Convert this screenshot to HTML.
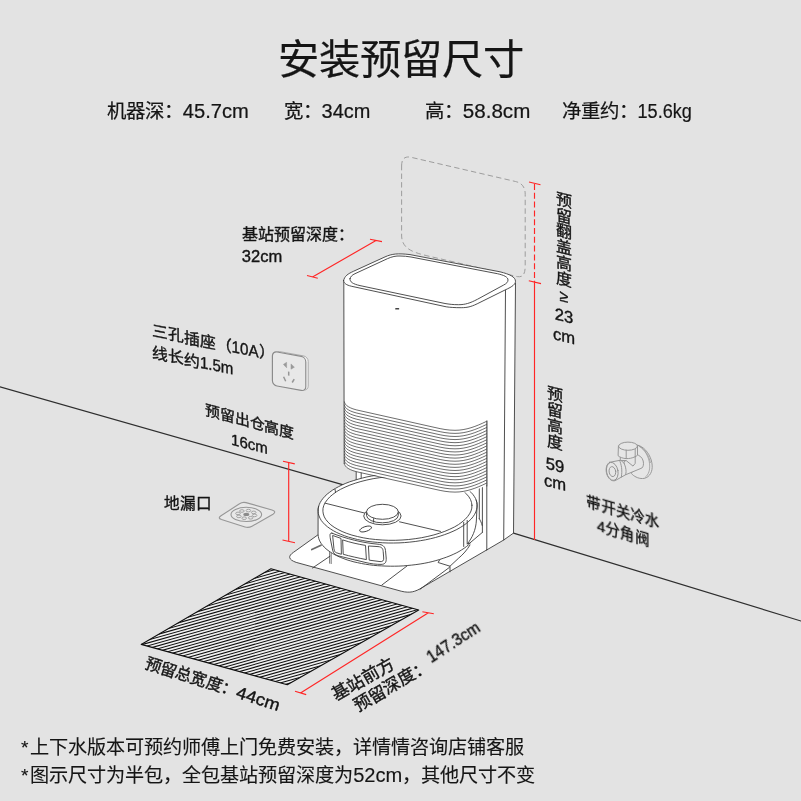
<!DOCTYPE html>
<html lang="zh-CN">
<head>
<meta charset="utf-8">
<title>安装预留尺寸</title>
<style>
html,body{margin:0;padding:0;background:#e3e3e3;}
body{width:801px;height:801px;overflow:hidden;font-family:"Liberation Sans",sans-serif;}
svg{display:block}
</style>
</head>
<body>
<svg width="801" height="801" viewBox="0 0 801 801">
<rect width="801" height="801" fill="#e3e3e3"/>
<path d="M0,386.9 L346,485.6 M513.5,533.1 L801,621" fill="none" stroke="#2e2e2e" stroke-width="1.1" stroke-linejoin="round" stroke-linecap="round"/>
<path d="M401.6,166 C401.6,159.5 404,156 410.6,157.2 L515.5,181.5 C522,183 525.2,187 525.2,194.5 L525.2,266 C525.2,274 523,277.6 517.3,276.6 L428,256 C412,252.2 401.6,248.5 401.6,235 Z" fill="none" stroke="#909090" stroke-width="0.85" stroke-linejoin="round" stroke-linecap="round" stroke-dasharray="4.6 4"/>
<path d="M343.8,281 C344.5,276 348,273.8 353.7,271.2 L385,256.9 C392,253.7 398,253.2 410,254.6 L500,271.8 C510,274.3 515.3,277 515.5,281.2 L513.5,533.1 L503.7,540 L486.8,549.9 L422.4,587.4 C415,592 410,593.3 401.2,591.2 L296.2,562.4 C288,559.5 288,556 293.5,552.3 L318.7,534.3 L330,520 L345,497 L356.2,483 L356.2,470.5 L351.2,469.3 C347,468 344.5,466 344.2,463.7 Z" fill="#fff" stroke="none" stroke-width="0.9" stroke-linejoin="round" stroke-linecap="round"/>
<path d="M318.7,534.3 L293.5,552.3 C288,556 288,559.5 296.2,562.4 L401.2,591.2 C410,593.3 415,592 422.4,587.4 L486.8,549.9" fill="none" stroke="#3c3c3c" stroke-width="0.9" stroke-linejoin="round" stroke-linecap="round"/>
<path d="M420,589.3 L449.3,567.5" fill="none" stroke="#3c3c3c" stroke-width="0.9" stroke-linejoin="round" stroke-linecap="round"/>
<path d="M312.5,568 L330,556.2 M381.9,585 L407.5,565.6" fill="none" stroke="#3c3c3c" stroke-width="0.9" stroke-linejoin="round" stroke-linecap="round"/>
<path d="M440,559.3 L438.1,562.5 L450,566.2 L450,571.8 M450,566.2 L458.7,558.1 C463,554.5 467,550 470,545" fill="none" stroke="#3c3c3c" stroke-width="0.9" stroke-linejoin="round" stroke-linecap="round"/>
<path d="M515.5,283 L513.5,533.1 L503.7,540 L486.8,549.9" fill="none" stroke="#3c3c3c" stroke-width="0.9" stroke-linejoin="round" stroke-linecap="round"/>
<path d="M505.5,290 L503.7,540" fill="none" stroke="#3c3c3c" stroke-width="0.9" stroke-linejoin="round" stroke-linecap="round"/>
<path d="M356.2,471.8 L356.2,481 M361.2,472.8 L361.2,479.5" fill="none" stroke="#3c3c3c" stroke-width="0.9" stroke-linejoin="round" stroke-linecap="round"/>
<path d="M486.8,421 L486.8,549.9 M482.4,486 L482.4,532.4 M479.3,487.5 L479.3,518.7" fill="none" stroke="#3c3c3c" stroke-width="0.9" stroke-linejoin="round" stroke-linecap="round"/>
<path d="M482.4,532.4 L467.5,545 M479.3,518.7 C480.5,521 481.5,522.5 482.2,525.5" fill="none" stroke="#3c3c3c" stroke-width="0.9" stroke-linejoin="round" stroke-linecap="round"/>
<path d="M318.1,511.3 L318.1,509.1 L318.5,506.9 L319.2,504.7 L320.2,502.5 L321.5,500.4 L323.1,498.3 L325.0,496.2 L327.2,494.1 L329.7,492.2 L332.4,490.2 L335.4,488.4 L338.7,486.6 L342.1,484.9 L345.8,483.3 L349.7,481.8 L353.8,480.5 L358.1,479.2 L362.5,478.0 L367.0,476.9 L371.7,476.0 L376.5,475.2 L381.3,474.5 L386.2,474.0 L391.2,473.6 L396.2,473.3 L401.2,473.2 L406.2,473.2 L411.1,473.3 L416.0,473.6 L420.8,474.0 L425.6,474.6 L430.2,475.3 L434.7,476.1 L439.0,477.0 L443.2,478.1 L447.2,479.3 L451.0,480.6 L454.6,482.0 L458.0,483.5 L461.1,485.1 L464.0,486.8 L466.6,488.5 L469.0,490.4 L471.0,492.3 L472.8,494.3 L474.3,496.4 L475.5,498.4 L476.3,500.6 L476.9,502.7 L477.1,504.9 L476.4,520 C476,530 472,538 467.5,543.7 L470.3,543.1 L468.4,544.9 L466.4,546.6 L464.1,548.3 L461.6,549.9 L459.0,551.5 L456.2,553.0 L453.2,554.4 L450.0,555.8 L446.7,557.1 L443.2,558.3 L439.6,559.5 L435.9,560.6 L432.1,561.6 L428.2,562.5 L424.2,563.3 L420.1,564.0 L415.9,564.6 L411.7,565.1 L407.4,565.5 L403.2,565.9 L398.9,566.1 L394.6,566.2 L390.3,566.2 L386.0,566.1 L381.7,565.9 L377.6,565.7 L373.4,565.3 L369.4,564.8 L365.4,564.2 L361.5,563.5 L357.7,562.7 L354.0,561.9 L350.5,560.9 L347.1,559.9 L343.9,558.7 L340.8,557.5 L337.8,556.2 L335.1,554.9 L332.5,553.4 L330.1,551.9 L328.0,550.4 L326.0,548.8 L324.2,547.1 L322.7,545.4 L321.3,543.7 L320.2,541.9 L319.3,540.1 L318.7,538.2 L318.3,536.4 L318.1,534.5 Z" fill="#fff" stroke="#3c3c3c" stroke-width="0.9" stroke-linejoin="round" stroke-linecap="round"/>
<path d="M476.2,500.1 L476.8,502.4 L477.1,504.8 L477.1,507.2 L476.6,509.6 L475.8,512.0 L474.6,514.3 L473.1,516.7 L471.2,519.0 L468.9,521.2 L466.4,523.4 L463.5,525.5 L460.3,527.5 L456.8,529.5 L453.0,531.3 L449.0,533.0 L444.7,534.6 L440.2,536.1 L435.5,537.5 L430.6,538.7 L425.6,539.8 L420.4,540.7 L415.2,541.5 L409.8,542.1 L404.4,542.6 L399.0,542.9 L393.6,543.0 L388.1,543.0 L382.8,542.8 L377.4,542.4 L372.2,541.9 L367.1,541.3 L362.2,540.4 L357.4,539.5 L352.8,538.3 L348.4,537.1 L344.3,535.7 L340.3,534.1 L336.7,532.5 L333.3,530.7 L330.3,528.8 L327.6,526.9 L325.1,524.8 L323.1,522.7 L321.3,520.5 L320.0,518.2 L319.0,515.9 L318.3,513.6 L318.1,511.2 L318.2,508.8 L318.6,506.4" fill="none" stroke="#3c3c3c" stroke-width="0.9" stroke-linejoin="round" stroke-linecap="round"/>
<path d="M471.9,505.2 L471.8,508.1 L471.0,511.0 L469.6,513.8 L467.6,516.6 L465.1,519.4 L462.0,522.0 L458.5,524.6 L454.4,527.0 L449.8,529.2 L444.9,531.3 L439.5,533.2 L433.9,534.9 L427.9,536.4 L421.7,537.7 L415.2,538.7 L408.7,539.5 L402.0,540.0 L395.3,540.3 L388.7,540.3 L382.1,540.0 L375.6,539.5 L369.3,538.8 L363.2,537.8 L357.4,536.5 L351.9,535.1 L346.8,533.4 L342.1,531.5 L337.9,529.4 L334.1,527.2 L330.8,524.8 L328.1,522.2 L325.9,519.6 L324.3,516.9 L323.3,514.0 L322.9,511.2 L323.0,508.3 L323.8,505.4 L325.2,502.6 L327.2,499.8 L329.7,497.0 L332.8,494.4 L336.3,491.8 L340.4,489.4 L345.0,487.2 L349.9,485.1 L355.3,483.2 L360.9,481.5 L366.9,480.0 L373.1,478.7 L379.6,477.7 L386.1,476.9 L392.8,476.4 L399.5,476.1 L406.1,476.1 L412.7,476.4 L419.2,476.9 L425.5,477.6 L431.6,478.6 L437.4,479.9 L442.9,481.3 L448.0,483.0 L452.7,484.9 L456.9,487.0 L460.7,489.2 L464.0,491.6 L466.7,494.2 L468.9,496.8 L470.5,499.5 L471.5,502.4 L471.9,505.2 Z" fill="#fff" stroke="#3c3c3c" stroke-width="0.9" stroke-linejoin="round" stroke-linecap="round"/>
<path d="M335,489.3 L335.6,492.6" fill="none" stroke="#3c3c3c" stroke-width="0.9" stroke-linejoin="round" stroke-linecap="round"/>
<path d="M325.2,503.2 L366,513.4 M399.5,521.8 L440.5,531.4" fill="none" stroke="#3c3c3c" stroke-width="0.9" stroke-linejoin="round" stroke-linecap="round"/>
<ellipse cx="382.4" cy="516" rx="18.7" ry="8.8" fill="#fff" stroke="#3c3c3c" stroke-width="0.9"/>
<path d="M366.5,511.8 L366.5,515.3 A15.9,7.5 0 0 0 398.3,515.3 L398.3,511.8" fill="#fff" stroke="#3c3c3c" stroke-width="0.9" stroke-linejoin="round" stroke-linecap="round"/>
<ellipse cx="382.4" cy="511.8" rx="15.9" ry="7.5" fill="#fff" stroke="#3c3c3c" stroke-width="0.9"/>
<path d="M373.6,518.6 L373.6,522.2" fill="none" stroke="#3c3c3c" stroke-width="0.9" stroke-linejoin="round" stroke-linecap="round"/>
<ellipse cx="365.6" cy="529" rx="6.2" ry="2.4" transform="rotate(-18 365.6 529)" fill="#fff" stroke="#3c3c3c" stroke-width="0.9"/>
<path d="M332,533.2 C329.5,532.6 329.8,535 330.4,539 L332.6,550 C333.5,553.5 335,554.8 338,555.8 L366,562.6 C371,563.8 376,564.4 381,564.4 C385.5,564.4 386.4,562 386.2,558 L385.5,550.5 C385,546.2 382.5,544.6 378,544.2 C362,542.8 346,538.6 332,533.2 Z" fill="#fff" stroke="#3c3c3c" stroke-width="0.9" stroke-linejoin="round" stroke-linecap="round"/>
<path d="M333,535.6 L341,538.4 L341.4,554.3 L336.5,552.8 C334.8,552.2 334.3,551 334,549 Z" fill="none" stroke="#3c3c3c" stroke-width="0.9" stroke-linejoin="round" stroke-linecap="round"/>
<path d="M343,540 C350,542.4 358,544.2 365.5,545.4 L366.4,559.6 C358,558 350,556.2 343.6,554.4 Z" fill="none" stroke="#3c3c3c" stroke-width="0.9" stroke-linejoin="round" stroke-linecap="round"/>
<path d="M368.8,546 L378,546.6 C381.8,546.8 383,548.6 383.2,551.6 L383.7,558 C383.9,560.8 382.6,561.8 380,561.6 L369.6,560.2 Z" fill="none" stroke="#3c3c3c" stroke-width="0.9" stroke-linejoin="round" stroke-linecap="round"/>
<path d="M311.8,549.6 L321,545.2" fill="none" stroke="#6a6a6a" stroke-width="1.7" stroke-linejoin="round" stroke-linecap="round"/>
<path d="M329.6,552.4 L329.6,563.2 M331.2,553.4 L331.2,563.6" fill="none" stroke="#3c3c3c" stroke-width="0.7" stroke-linejoin="round" stroke-linecap="round"/>
<path d="M463.7,522.4 L463.7,546.5 M467.2,520.4 L467.2,544" fill="none" stroke="#3c3c3c" stroke-width="0.9" stroke-linejoin="round" stroke-linecap="round"/>
<path d="M343.8,281 L515.5,281.2 L505.5,290 L486.8,300 L486.8,484.9 C481,488 475,490.5 470,491.5 C463,493 458,493 450,492 L360,472 C350,470 345.5,468 344.2,463.7 Z" fill="#fff" stroke="none" stroke-width="0.9" stroke-linejoin="round" stroke-linecap="round"/>
<path d="M343.8,281 L344.2,463.7" fill="none" stroke="#3c3c3c" stroke-width="0.9" stroke-linejoin="round" stroke-linecap="round"/>
<path d="M343.6,280.5 C344.5,276 348,273.8 353.7,271.2 L385,256.9 C392,253.7 398,253.2 410,254.6 L500,271.8 C510,274.3 515.3,277 515.5,281.2 C515.5,284 513,286.5 505,290 L480,302.4 C472,306.5 468,307.7 461.2,307.7 C455,307.7 450,307.4 446.2,306.8 L351.2,286.2 C346.5,285 343.8,283.5 343.6,280.5 Z" fill="#fff" stroke="#3c3c3c" stroke-width="0.9" stroke-linejoin="round" stroke-linecap="round"/>
<path d="M350,278.7 C350.6,276.5 352,275 355,273.7 L387.4,258.7 C392,256.6 396,255.8 400,256 C404,256 407,256.4 411,257 L497.4,273.7 C504,275.2 508,277 508,280 C508,282 506.5,283.6 503.7,285 L477.4,299.3 C470,303.2 465,304.7 458.7,304.7 C453,304.7 449,304.2 445,303.5 L360,285.6 C353,284 349.6,282 350,278.7 Z" fill="#fff" stroke="#3c3c3c" stroke-width="0.9" stroke-linejoin="round" stroke-linecap="round"/>
<rect x="395.2" y="308" width="4" height="1.5" rx="0.6" fill="#444"/>
<path d="M344.4,401.90 C344.6,405.10 349,408.50 360,410.70 L435,427.50 C442,429.10 448,430.30 455,430.30 C466,430.30 476,426.50 486.4,421.40 M344.4,404.99 C344.6,408.19 349,411.59 360,413.79 L435,430.59 C442,432.19 448,433.39 455,433.39 C466,433.39 476,429.59 486.4,424.49 M344.4,408.08 C344.6,411.28 349,414.68 360,416.88 L435,433.68 C442,435.28 448,436.48 455,436.48 C466,436.48 476,432.68 486.4,427.58 M344.4,411.17 C344.6,414.37 349,417.77 360,419.97 L435,436.77 C442,438.37 448,439.57 455,439.57 C466,439.57 476,435.77 486.4,430.67 M344.4,414.26 C344.6,417.46 349,420.86 360,423.06 L435,439.86 C442,441.46 448,442.66 455,442.66 C466,442.66 476,438.86 486.4,433.76 M344.4,417.35 C344.6,420.55 349,423.95 360,426.15 L435,442.95 C442,444.55 448,445.75 455,445.75 C466,445.75 476,441.95 486.4,436.85 M344.4,420.44 C344.6,423.64 349,427.04 360,429.24 L435,446.04 C442,447.64 448,448.84 455,448.84 C466,448.84 476,445.04 486.4,439.94 M344.4,423.53 C344.6,426.73 349,430.13 360,432.33 L435,449.13 C442,450.73 448,451.93 455,451.93 C466,451.93 476,448.13 486.4,443.03 M344.4,426.62 C344.6,429.82 349,433.22 360,435.42 L435,452.22 C442,453.82 448,455.02 455,455.02 C466,455.02 476,451.22 486.4,446.12 M344.4,429.71 C344.6,432.91 349,436.31 360,438.51 L435,455.31 C442,456.91 448,458.11 455,458.11 C466,458.11 476,454.31 486.4,449.21 M344.4,432.80 C344.6,436.00 349,439.40 360,441.60 L435,458.40 C442,460.00 448,461.20 455,461.20 C466,461.20 476,457.40 486.4,452.30 M344.4,435.89 C344.6,439.09 349,442.49 360,444.69 L435,461.49 C442,463.09 448,464.29 455,464.29 C466,464.29 476,460.49 486.4,455.39 M344.4,438.98 C344.6,442.18 349,445.58 360,447.78 L435,464.58 C442,466.18 448,467.38 455,467.38 C466,467.38 476,463.58 486.4,458.48 M344.4,442.07 C344.6,445.27 349,448.67 360,450.87 L435,467.67 C442,469.27 448,470.47 455,470.47 C466,470.47 476,466.67 486.4,461.57 M344.4,445.16 C344.6,448.36 349,451.76 360,453.96 L435,470.76 C442,472.36 448,473.56 455,473.56 C466,473.56 476,469.76 486.4,464.66 M344.4,448.25 C344.6,451.45 349,454.85 360,457.05 L435,473.85 C442,475.45 448,476.65 455,476.65 C466,476.65 476,472.85 486.4,467.75 M344.4,451.34 C344.6,454.54 349,457.94 360,460.14 L435,476.94 C442,478.54 448,479.74 455,479.74 C466,479.74 476,475.94 486.4,470.84 M344.4,454.43 C344.6,457.63 349,461.03 360,463.23 L435,480.03 C442,481.63 448,482.83 455,482.83 C466,482.83 476,479.03 486.4,473.93 M344.4,457.52 C344.6,460.72 349,464.12 360,466.32 L435,483.12 C442,484.72 448,485.92 455,485.92 C466,485.92 476,482.12 486.4,477.02 M344.4,460.61 C344.6,463.81 349,467.21 360,469.41 L435,486.21 C442,487.81 448,489.01 455,489.01 C466,489.01 476,485.21 486.4,480.11 M344.4,463.70 C344.6,466.90 349,470.30 360,472.50 L435,489.30 C442,490.90 448,492.10 455,492.10 C466,492.10 476,488.30 486.4,483.20" fill="none" stroke="#3c3c3c" stroke-width="0.75" stroke-linejoin="round" stroke-linecap="round"/>
<path d="M486.8,421 L486.8,486" fill="none" stroke="#3c3c3c" stroke-width="0.9" stroke-linejoin="round" stroke-linecap="round"/>
<clipPath id="matclip"><path d="M141.2,644.4 L271.0,568.7 L418.7,610.0 L287.3,684.8 Z"/></clipPath>
<path d="M141.2,644.4 L271.0,568.7 L418.7,610.0 L287.3,684.8 Z" fill="#f0f0f0" stroke="none"/>
<path d="M139.0,608.12 L421.0,528.32 M139.0,610.99 L421.0,531.19 M139.0,613.86 L421.0,534.06 M139.0,616.73 L421.0,536.93 M139.0,619.60 L421.0,539.80 M139.0,622.47 L421.0,542.67 M139.0,625.34 L421.0,545.54 M139.0,628.21 L421.0,548.41 M139.0,631.08 L421.0,551.28 M139.0,633.95 L421.0,554.15 M139.0,636.82 L421.0,557.02 M139.0,639.69 L421.0,559.89 M139.0,642.56 L421.0,562.76 M139.0,645.43 L421.0,565.63 M139.0,648.30 L421.0,568.50 M139.0,651.17 L421.0,571.37 M139.0,654.04 L421.0,574.24 M139.0,656.91 L421.0,577.11 M139.0,659.78 L421.0,579.98 M139.0,662.65 L421.0,582.85 M139.0,665.52 L421.0,585.72 M139.0,668.39 L421.0,588.59 M139.0,671.26 L421.0,591.46 M139.0,674.13 L421.0,594.33 M139.0,677.00 L421.0,597.20 M139.0,679.87 L421.0,600.07 M139.0,682.74 L421.0,602.94 M139.0,685.61 L421.0,605.81 M139.0,688.48 L421.0,608.68 M139.0,691.35 L421.0,611.55 M139.0,694.22 L421.0,614.42 M139.0,697.09 L421.0,617.29 M139.0,699.96 L421.0,620.16 M139.0,702.83 L421.0,623.03 M139.0,705.70 L421.0,625.90 M139.0,708.57 L421.0,628.77 M139.0,711.44 L421.0,631.64 M139.0,714.31 L421.0,634.51 M139.0,717.18 L421.0,637.38 M139.0,720.05 L421.0,640.25 M139.0,722.92 L421.0,643.12 M139.0,725.79 L421.0,645.99" fill="none" stroke="#0e0e0e" stroke-width="1.05" clip-path="url(#matclip)"/>
<path d="M141.2,644.4 L271.0,568.7 L418.7,610.0 L287.3,684.8 Z" fill="none" stroke="#0e0e0e" stroke-width="1.1" stroke-linejoin="round"/>
<path d="M312.5,277 L376,240.5 M307,275.5 L317.8,278.3 M370,239.2 L382,241.6 M288.7,462.5 L288.7,541.3 M283,461.2 L294.8,463.9 M282.5,540 L295,542.8 M534.5,282 L534.5,540 M528.8,280.8 L541,283.6 M529,182 L540.5,184.8 M300.5,693 L428,613 M295,691.2 L306.2,694.6 M422.4,611.8 L433.8,613.8" fill="none" stroke="#ff2626" stroke-width="1.15"/>
<path d="M534.5,184 L534.5,282" fill="none" stroke="#ff2626" stroke-width="1.15" stroke-dasharray="6 2.8"/>
<g transform="matrix(1,0.18,0,1,272.4,351.2)"><rect x="2.4" y="-0.9" width="33.4" height="34" rx="4.6" fill="#f4f4f4" stroke="#a0a0a0" stroke-width="0.8"/><rect x="0" y="0" width="33.4" height="34" rx="4.6" fill="#e8e8e8" stroke="#8a8a8a" stroke-width="1.15"/><path d="M14.2,8.6 L11,11.2 L14.2,14 Z M18.6,9.4 L22,12 L18.6,14.6 Z" fill="#9a9a9a" stroke="#9a9a9a" stroke-width="0.5" stroke-linejoin="round"/><path d="M16.3,17.6 L16.3,21.6 M11.2,23.6 L13.3,27.6 M21.8,24 L19.8,27.8" stroke="#969696" stroke-width="1.5" fill="none"/></g>
<path d="M221,515.8 L239.5,503.8 C241.8,502.2 243.5,502 246,502.6 L272,510 C275.5,511 275.5,512.6 273,514.2 L252,526.2 C249.5,527.6 247.5,527.8 245,527 L221.5,519.6 C218.6,518.6 218.6,517.4 221,515.8 Z" fill="#e8e8e8" stroke="#979797" stroke-width="1.1"/>
<ellipse cx="246.3" cy="514.4" rx="15.3" ry="7.1" fill="none" stroke="#979797" stroke-width="1.1"/>
<ellipse cx="246.3" cy="514.4" rx="3" ry="1.6" fill="#8a8a8a"/>
<g fill="none" stroke="#9c9c9c" stroke-width="0.9"><ellipse cx="254.6" cy="515.4" rx="2.3" ry="1.3"/><ellipse cx="250.7" cy="517.8" rx="2.3" ry="1.3"/><ellipse cx="244.2" cy="518.2" rx="2.3" ry="1.3"/><ellipse cx="238.9" cy="516.4" rx="2.3" ry="1.3"/><ellipse cx="238.0" cy="513.4" rx="2.3" ry="1.3"/><ellipse cx="241.9" cy="511.0" rx="2.3" ry="1.3"/><ellipse cx="248.4" cy="510.6" rx="2.3" ry="1.3"/><ellipse cx="253.7" cy="512.4" rx="2.3" ry="1.3"/></g>
<g fill="#e6e6e6" stroke="#8f8f8f" stroke-width="0.9" stroke-linejoin="round" stroke-linecap="round"><path d="M637.5,445.1 C643.5,446.4 648.8,452.5 651.2,460 C653.2,467 652.2,473.2 648,476.6 C645,479 640.4,479.2 636,477 C634,476 632.5,474.8 631.5,473.6 L636,458 Z"/><path d="M639.6,446.6 C645,449.8 648.8,456.8 649.6,463.8 C650.2,470 648.6,474.6 645.4,477.2 M638.4,445.6 C644.2,448 649,455.4 650.4,462.6" fill="none" stroke-width="0.7"/><path d="M636.5,454.6 C639.6,455.2 642.4,457.6 643.2,461 C643.9,464.4 643.3,466.6 641.9,468 L625.5,474.8 L624,462 Z"/><path d="M609.7,462.3 L619.5,460.4 C622,460.4 624.5,463 625.5,467.2 C626.3,470.5 626.2,473 625.5,474.8 L615,480.7 C611.5,481.5 608,478.5 606.6,473.5 C605.4,468.5 606.6,463.6 609.7,462.3 Z"/><path d="M619.5,460.4 C621.4,464 622.6,470.4 621.3,477.1" fill="none"/><ellipse cx="612.3" cy="471.4" rx="5.7" ry="9.1" transform="rotate(-11 612.3 471.4)"/><ellipse cx="612.4" cy="471.6" rx="3.3" ry="5" transform="rotate(-9 612.4 471.6)"/><path d="M620.3,456.6 L620.3,460.4 L626.2,460.6 L633,466.1 L635.2,463.4 L635.2,456.4" /><path d="M618.4,446.2 A9.55,4.1 0 0 1 637.5,446.2 L637.5,455 C636.6,456 636,456.4 635.2,456.7 C632,458.2 629,458.7 626.2,458.6 C623,458.4 620,457.4 618.4,456 Z"/><path d="M618.4,446.2 A9.55,4.1 0 0 0 637.5,446.2 M626.2,450.2 L626.2,458.6 M635.2,449.3 L635.2,456.7" fill="none"/></g>
<g font-family="'Liberation Sans', sans-serif" fill="#151515" stroke="#151515" stroke-width="0.38" stroke-linejoin="round" opacity="0.999">
<text x="400.5" y="74.4" font-size="41.3" text-anchor="middle" stroke-width="0.2">安装预留尺寸</text>
<text x="106.8" y="117.5" font-size="19.4" text-anchor="start" stroke-width="0.22">机器深：<tspan font-size="20.18" textLength="66" lengthAdjust="spacingAndGlyphs">45.7cm</tspan></text>
<text x="283.6" y="117.5" font-size="19.4" text-anchor="start" stroke-width="0.22">宽：<tspan font-size="20.18" textLength="48.8" lengthAdjust="spacingAndGlyphs">34cm</tspan></text>
<text x="424.8" y="117.5" font-size="19.4" text-anchor="start" stroke-width="0.22">高：<tspan font-size="20.18" textLength="67.5" lengthAdjust="spacingAndGlyphs">58.8cm</tspan></text>
<text x="561.5" y="117.5" font-size="19.4" text-anchor="start" stroke-width="0.22">净重约：<tspan font-size="20.18" textLength="54.4" lengthAdjust="spacingAndGlyphs">15.6kg</tspan></text>
<text x="241.6" y="240" font-size="16" text-anchor="start">基站预留深度：</text>
<text x="241.8" y="261.5" font-size="16" text-anchor="start"><tspan font-size="16.64" textLength="40.4" lengthAdjust="spacingAndGlyphs">32cm</tspan></text>
<g transform="matrix(1,0.2,0,1,152.4,336.2)">
<text x="0" y="0" font-size="15.8" text-anchor="start">三孔插座（<tspan font-size="16.43" textLength="27" lengthAdjust="spacingAndGlyphs">10A</tspan>）</text>
<text x="0" y="22" font-size="15.8" text-anchor="start">线长约<tspan font-size="16.43" textLength="33.5" lengthAdjust="spacingAndGlyphs">1.5m</tspan></text>
</g>
<g transform="matrix(1,0.263,0,1,249.5,426.9)">
<text x="0" y="0" font-size="14.9" text-anchor="middle">预留出仓高度</text>
<text x="0" y="22.4" font-size="14.9" text-anchor="middle"><tspan font-size="15.50" textLength="36.8" lengthAdjust="spacingAndGlyphs">16cm</tspan></text>
</g>
<text x="163.8" y="508.8" font-size="15.6" text-anchor="start">地漏口</text>
<g transform="matrix(1,0.288,0,1,623.2,517)">
<text x="0" y="0" font-size="14.4" text-anchor="middle">带开关冷水</text>
<text x="0" y="21" font-size="14.4" text-anchor="middle"><tspan font-size="14.98">4</tspan>分角阀</text>
</g>
<text font-size="16" text-anchor="middle" transform="matrix(1,0.25,0,1,564,0)"><tspan x="0" y="205.6">预</tspan><tspan x="0" y="221.5">留</tspan><tspan x="0" y="237.4">翻</tspan><tspan x="0" y="253.3">盖</tspan><tspan x="0" y="269.2">高</tspan><tspan x="0" y="285.1">度</tspan><tspan x="0" y="301.8">≥</tspan><tspan x="0" y="321.5"><tspan font-size="16.64">23</tspan></tspan><tspan x="0" y="341.8"><tspan font-size="16.64">cm</tspan></tspan></text>
<text font-size="16" text-anchor="middle" transform="matrix(1,0.25,0,1,555,0)"><tspan x="0" y="400">预</tspan><tspan x="0" y="415.9">留</tspan><tspan x="0" y="431.8">高</tspan><tspan x="0" y="447.7">度</tspan><tspan x="0" y="470.8"><tspan font-size="16.64">59</tspan></tspan><tspan x="0" y="488.2"><tspan font-size="16.64">cm</tspan></tspan></text>
<g transform="translate(143.8,667.6) rotate(18)">
<text x="0" y="0" font-size="16.3" text-anchor="start">预留总宽度：<tspan font-size="16.95" textLength="45" lengthAdjust="spacingAndGlyphs">44cm</tspan></text>
</g>
<g transform="translate(336.3,701.1) rotate(-29.8)">
<text x="0" y="0" font-size="17.2" text-anchor="start">基站前方</text>
</g>
<g transform="translate(358.1,712.3) rotate(-30.4)">
<text x="0" y="0" font-size="17.2" text-anchor="start">预留深度：</text>
</g>
<g transform="translate(431.2,663.3) rotate(-33.2)">
<text x="0" y="0" font-size="17.2" text-anchor="start"><tspan font-size="17.20" textLength="60" lengthAdjust="spacingAndGlyphs">147.3cm</tspan></text>
</g>
<text font-size="19.15" stroke-width="0.12"><tspan x="21" y="754.4">*</tspan><tspan x="30.2" y="754">上下水版本可预约师傅上门免费安装，详情情咨询店铺客服</tspan></text>
<text font-size="19.15" stroke-width="0.12"><tspan x="21" y="782.4">*</tspan><tspan x="30.2" y="782">图示尺寸为半包，全包基站预留深度为<tspan font-size="19.92" textLength="49.2" lengthAdjust="spacingAndGlyphs">52cm</tspan>，其他尺寸不变</tspan></text>
</g>
</svg>
</body>
</html>
